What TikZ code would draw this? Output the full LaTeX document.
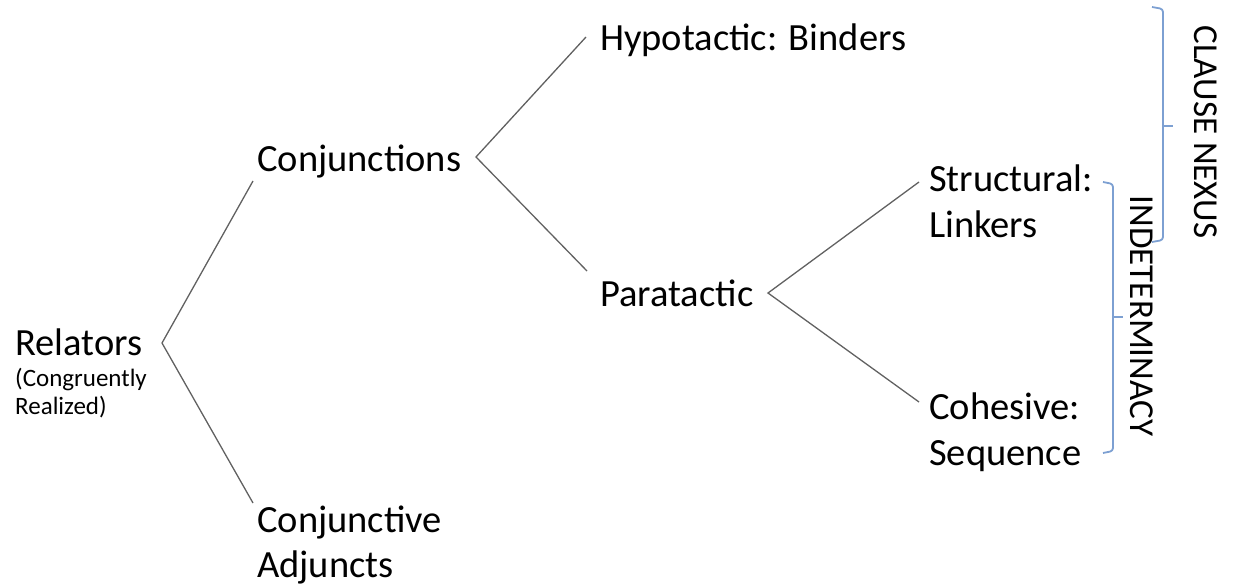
\documentclass[tikz,border=0pt]{standalone}
\usepackage{fontspec}
\setmainfont{Carlito}
\begin{document}
\begin{tikzpicture}[x=1pt,y=-1pt,
  lbl/.style={inner sep=0pt,anchor=base west,align=left,font=\fontsize{38.5}{46}\selectfont},
  small/.style={inner sep=0pt,anchor=base west,align=left,font=\fontsize{25}{28}\selectfont},
  side/.style={inner sep=0pt,rotate=-90,font=\fontsize{35}{40}\selectfont},
  conn/.style={draw=black!62,line width=1.3pt},
  brace/.style={draw=bcol,line width=1.8pt,rounded corners=3pt},
  tick/.style={draw=bcol,line width=1.8pt}]
\definecolor{bcol}{RGB}{125,160,210}
\useasboundingbox (0,0) rectangle (1233,585);
% texts (base anchor = baseline of the last line)
\node[lbl] (rel) at (15,355) {Relators};
\node[small] (relsub) at (15,414) {(Congruently\\Realized)};
\node[lbl] (conj) at (257,172) {Conjunctions};
\node[lbl,font=\fontsize{38.5}{45}\selectfont] (adj) at (257,577) {Conjunctive\\Adjuncts};
\node[lbl] (hyp) at (600,51) {Hypotactic: Binders};
\node[lbl] (para) at (600,306) {Paratactic};
\node[lbl] (struct) at (929,237) {Structural:\\Linkers};
\node[lbl] (coh) at (929,465) {Cohesive:\\Sequence};
\node[side] (nexus) at (1206,132) {CLAUSE NEXUS};
\node[side] (indet) at (1142,316) {INDETERMINACY};
% connector points
\coordinate (relA) at (162,343);
\coordinate (conjE) at (253,181);
\coordinate (adjE) at (253,503);
\coordinate (conjA) at (476,157);
\coordinate (hypE) at (586,37);
\coordinate (paraE) at (587,271);
\coordinate (paraA) at (768,293);
\coordinate (structE) at (919,182);
\coordinate (cohE) at (919,402);
\draw[conn] (conjE) -- (relA) -- (adjE);
\draw[conn] (hypE) -- (conjA) -- (paraE);
\draw[conn] (structE) -- (paraA) -- (cohE);
% braces
\draw[brace] (1152,7) -- (1163,9) -- (1163,240) -- (1152,242);
\draw[tick] (1163,126) -- (1173,126);
\draw[brace] (1103,182) -- (1113,184) -- (1113,451) -- (1103,453);
\draw[tick] (1113,317) -- (1123,317);
\end{tikzpicture}
\end{document}
